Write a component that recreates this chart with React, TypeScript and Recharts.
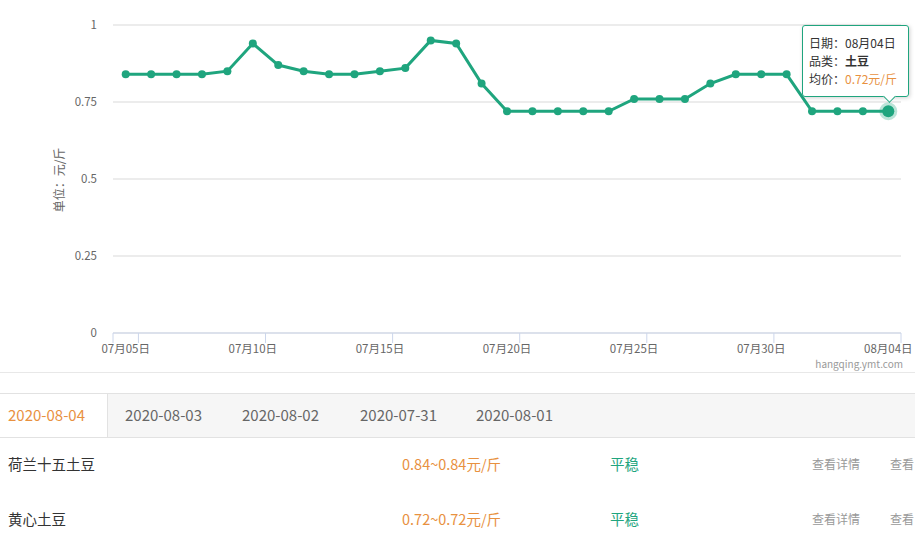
import React from 'react';
import { LineChart, Line, XAxis, YAxis, CartesianGrid, Tooltip } from 'recharts';

const dates = [
  '07月05日', '07月06日', '07月07日', '07月08日', '07月09日', '07月10日', '07月11日',
  '07月12日', '07月13日', '07月14日', '07月15日', '07月16日', '07月17日', '07月18日',
  '07月19日', '07月20日', '07月21日', '07月22日', '07月23日', '07月24日', '07月25日',
  '07月26日', '07月27日', '07月28日', '07月29日', '07月30日', '07月31日', '08月01日',
  '08月02日', '08月03日', '08月04日',
];
const prices = [
  0.84, 0.84, 0.84, 0.84, 0.85, 0.94, 0.87,
  0.85, 0.84, 0.84, 0.85, 0.86, 0.95, 0.94,
  0.81, 0.72, 0.72, 0.72, 0.72, 0.72, 0.76,
  0.76, 0.76, 0.81, 0.84, 0.84, 0.84, 0.72,
  0.72, 0.72, 0.72,
];
const yTicks = [0, 0.25, 0.5, 0.75, 1];
const category = '土豆';
const yAxisLabel = '单位：元/斤';
const credit = 'hangqing.ymt.com';
const tabDates = ['2020-08-04', '2020-08-03', '2020-08-02', '2020-07-31', '2020-08-01'];
const varieties = ['荷兰十五土豆', '黄心土豆'];
const priceRanges = ['0.84~0.84元/斤', '0.72~0.72元/斤'];
const trends = ['平稳', '平稳'];
const detailText = '查看详情';
const detailText2 = '查看';

const data = dates.map((d, i) => ({ date: d, price: prices[i] }));

const GREEN = '#1fa57e';
const ORANGE = '#e8913f';
const AXIS = '#ccd6eb';
const CHART_W = 915;
const CHART_H = 372;
const LEFT = 113;
const RIGHT_M = 14;
const X_AXIS_H = 39;
const PLOT_BOTTOM = CHART_H - X_AXIS_H;
const PLOT_W = CHART_W - LEFT - RIGHT_M;
const BAND = PLOT_W / dates.length;
const FONT = '"Noto Sans CJK SC", "Noto Sans", sans-serif';

function XTick(props: any) {
  const { x, payload } = props;
  return (
    <g>
      {payload.index === 0 && (
        <line x1={x - BAND / 2} x2={x - BAND / 2} y1={PLOT_BOTTOM} y2={PLOT_BOTTOM + 10} stroke={AXIS} />
      )}
      <line x1={x + BAND / 2} x2={x + BAND / 2} y1={PLOT_BOTTOM} y2={PLOT_BOTTOM + 10} stroke={AXIS} />
      <text x={x} y={PLOT_BOTTOM + 20} textAnchor="middle" fill="#666" fontSize={11.5} fontFamily={FONT}>
        {payload.value}
      </text>
    </g>
  );
}

function YLabel(props: any) {
  const cx = 58;
  const cy = 180;
  return (
    <text
      x={cx}
      y={cy}
      transform={`rotate(-90 ${cx} ${cy})`}
      textAnchor="middle"
      dominantBaseline="central"
      fill="#666"
      fontSize={12}
      fontFamily={FONT}
    >
      {yAxisLabel}
    </text>
  );
}

function TipContent(props: any) {
  const { active, payload } = props;
  if (!active || !payload || !payload.length) return null;
  const p = payload[0].payload;
  return (
    <div
      style={{
        position: 'relative',
        width: 107,
        boxSizing: 'border-box',
        background: 'rgba(255,255,255,0.97)',
        border: `1px solid ${GREEN}`,
        borderRadius: 3,
        padding: '8px 6px',
        fontSize: 12,
        lineHeight: '18px',
        color: '#333',
        boxShadow: '1px 1px 4px rgba(0,0,0,0.18)',
        whiteSpace: 'nowrap',
        fontFamily: FONT,
      }}
    >
      <div>日期：{p.date}</div>
      <div>
        品类：<b>{category}</b>
      </div>
      <div>
        均价：<span style={{ color: ORANGE }}>{p.price}元/斤</span>
      </div>
      <div
        style={{
          position: 'absolute',
          left: 82,
          bottom: -5,
          width: 8,
          height: 8,
          background: '#fff',
          borderRight: `1px solid ${GREEN}`,
          borderBottom: `1px solid ${GREEN}`,
          transform: 'rotate(45deg)',
        }}
      />
    </div>
  );
}

const rowYs = [464, 519];

export default function App() {
  return (
    <div
      style={{
        position: 'absolute',
        left: 0,
        top: 0,
        width: 915,
        height: 550,
        overflow: 'hidden',
        background: '#fff',
        fontFamily: FONT,
      }}
    >
      <div style={{ position: 'absolute', left: 0, top: 0 }}>
        <LineChart
          width={CHART_W}
          height={CHART_H}
          data={data}
          margin={{ top: 25, right: RIGHT_M, bottom: 0, left: 0 }}
        >
          <CartesianGrid vertical={false} stroke="#d9d9d9" />
          <XAxis
            dataKey="date"
            height={X_AXIS_H}
            interval={4}
            padding={{ left: BAND / 2, right: BAND / 2 }}
            axisLine={{ stroke: AXIS }}
            tickLine={false}
            tick={<XTick />}
          />
          <YAxis
            width={LEFT}
            domain={[0, 1]}
            ticks={yTicks}
            axisLine={false}
            tickLine={false}
            tickMargin={10}
            tick={{ fill: '#666', fontSize: 11.5, fontFamily: FONT }}
            label={<YLabel />}
          />
          <Tooltip
            content={<TipContent />}
            defaultIndex={30}
            active={true}
            cursor={false}
            position={{ x: 802, y: 25 }}
            isAnimationActive={false}
            wrapperStyle={{ outline: 'none' }}
          />
          <Line
            type="linear"
            dataKey="price"
            stroke={GREEN}
            strokeWidth={3}
            dot={{ r: 4, fill: GREEN, stroke: 'none' }}
            activeDot={{ r: 6, fill: GREEN, stroke: 'rgba(31,165,126,0.3)', strokeWidth: 6 }}
            isAnimationActive={false}
          />
        </LineChart>
      </div>

      <div
        style={{
          position: 'absolute',
          right: 12,
          top: 358,
          fontSize: 10,
          color: '#999',
          lineHeight: '12px',
        }}
      >
        {credit}
      </div>

      <div style={{ position: 'absolute', left: 0, top: 372, width: 915, height: 1, background: '#e8e8e8' }} />

      <div
        style={{
          position: 'absolute',
          left: 0,
          top: 393,
          width: 915,
          height: 43,
          background: '#f6f6f6',
          borderTop: '1px solid #e2e2e2',
          borderBottom: '1px solid #e2e2e2',
        }}
      />
      <div
        style={{
          position: 'absolute',
          left: 0,
          top: 394,
          width: 107,
          height: 43,
          background: '#fff',
          borderRight: '1px solid #e2e2e2',
        }}
      />
      {tabDates.map((t, i) => (
        <div
          key={t}
          style={{
            position: 'absolute',
            left: [8, 125, 242, 360, 476][i],
            top: 403,
            lineHeight: '24px',
            fontSize: 15,
            color: i === 0 ? ORANGE : '#666',
            whiteSpace: 'nowrap',
          }}
        >
          {t}
        </div>
      ))}

      {varieties.map((v, i) => (
        <React.Fragment key={v}>
          <div style={{ position: 'absolute', left: 8, top: rowYs[i] - 12, lineHeight: '24px', fontSize: 14.5, color: '#333', whiteSpace: 'nowrap' }}>
            {v}
          </div>
          <div style={{ position: 'absolute', left: 402, top: rowYs[i] - 12, lineHeight: '24px', fontSize: 14.5, color: ORANGE, whiteSpace: 'nowrap' }}>
            {priceRanges[i]}
          </div>
          <div style={{ position: 'absolute', left: 610, top: rowYs[i] - 12, lineHeight: '24px', fontSize: 14.5, color: GREEN, whiteSpace: 'nowrap' }}>
            {trends[i]}
          </div>
          <div style={{ position: 'absolute', left: 812, top: rowYs[i] - 12, lineHeight: '24px', fontSize: 12, color: '#999', whiteSpace: 'nowrap' }}>
            {detailText}
          </div>
          <div style={{ position: 'absolute', left: 890, top: rowYs[i] - 12, lineHeight: '24px', fontSize: 12, color: '#999', whiteSpace: 'nowrap' }}>
            {detailText2}
          </div>
        </React.Fragment>
      ))}
    </div>
  );
}
